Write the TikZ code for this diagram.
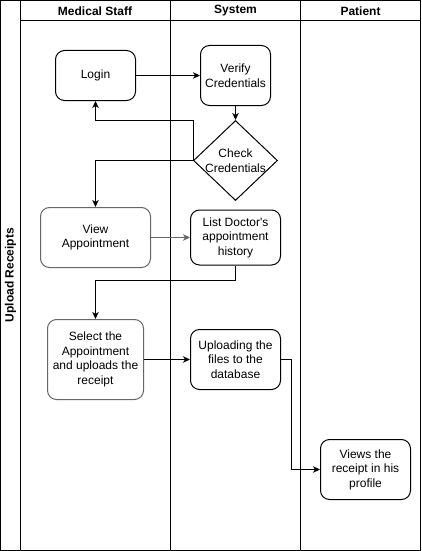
\documentclass[tikz,border=0pt]{standalone}
\usepackage{fontspec}
\setmainfont{Liberation Sans}
\usepackage{xcolor}
\usepackage{tikz}
\usetikzlibrary{arrows.meta, shapes.geometric, positioning}
\definecolor{strokegray}{HTML}{666666}
\newcommand{\lanefont}{\fontsize{12}{14.5}\selectfont}
\tikzset{
    roundnode/.style = {draw, rectangle, rounded corners=9pt, inner sep = 0em,
      line width=1pt, node distance=0em, align=center, font=\lanefont},
    decisionnode/.style = {draw, diamond, inner sep = 0em, line width=1pt,
      node distance=0em, minimum width=84pt, minimum height=80pt},
    textnode/.style  = {draw=none, fill=none, rectangle, minimum size=0cm, inner sep = 0em,
      node distance=0em, align=center, font=\lanefont},
    headnode/.style  = {textnode, font=\lanefont\bfseries},
    connect/.style = {black, line width=1pt, -{Stealth[length=7pt,width=6.5pt,inset=2pt]}},
    every text node part/.style={align=center}
}

\begin{document}
\begin{tikzpicture}[x=1pt, y=-1pt]
    \useasboundingbox (0,0) rectangle (421,551);
    % pool and lanes
    \draw[line width=1pt] (0.5,0.5) rectangle (420.5,550.5);
    \draw[line width=1pt] (20.5,0.5) -- (20.5,550.5);
    \draw[line width=1pt] (20.5,20.5) -- (420.5,20.5);
    \draw[line width=1pt] (170.5,0.5) -- (170.5,550.5);
    \draw[line width=1pt] (300.5,0.5) -- (300.5,550.5);
    \node[headnode, name=HS] at (95,11) {Medical Staff};
    \node[headnode, name=HY] at (235.5,11) {System};
    \node[headnode, name=HP] at (360.5,11) {Patient};
    \node[headnode, name=HU, rotate=90] at (10.5,275) {Upload Receipts};
    % steps
    \node[roundnode, name=login, minimum width=80pt, minimum height=50pt] at (95.5,75.5) {Login};
    \node[roundnode, name=verify, right of = login, xshift=140pt, minimum width=70pt,
      minimum height=60pt] {Verify\\Credentials};
    \node[decisionnode, name=chk, below of = verify, yshift=-85pt] {};
    \node[textnode, name=chktext, below of = verify, yshift=-85pt] {Check\\Credentials};
    \node[roundnode, name=view, draw=strokegray, below of = login, yshift=-162pt,
      minimum width=110pt, minimum height=60pt] {View\\Appointment};
    \node[roundnode, name=list, right of = view, xshift=140pt, minimum width=90pt,
      minimum height=55pt] {List Doctor\textquotesingle s\\appointment\\history};
    \node[roundnode, name=select, draw=strokegray, below of = view, yshift=-122pt,
      minimum width=96pt, minimum height=80pt] {Select the\\Appointment\\and uploads the\\receipt};
    \node[roundnode, name=upload, right of = select, xshift=140pt, minimum width=90pt,
      minimum height=60pt] {Uploading the\\files to the\\database};
    \node[roundnode, name=views, right of = upload, xshift=130pt, yshift=-110pt,
      minimum width=90pt, minimum height=60pt] {Views the\\receipt in his\\profile};
    % flow
    \draw[connect] (login) -- (verify);
    \draw[connect] (verify) -- (chk);
    \draw[connect] (chk.west) -- (chk.west |- chk.north) -| (login);
    \draw[connect] (chk.west) -| (view);
    \draw[connect, strokegray] (view) -- (list);
    \draw[connect] (list.south) -- ++(0,15) -| (select);
    \draw[connect] (select) -- (upload);
    \draw[connect] (upload.east) -- ++(10,0) |- (views);
\end{tikzpicture}
\end{document}
